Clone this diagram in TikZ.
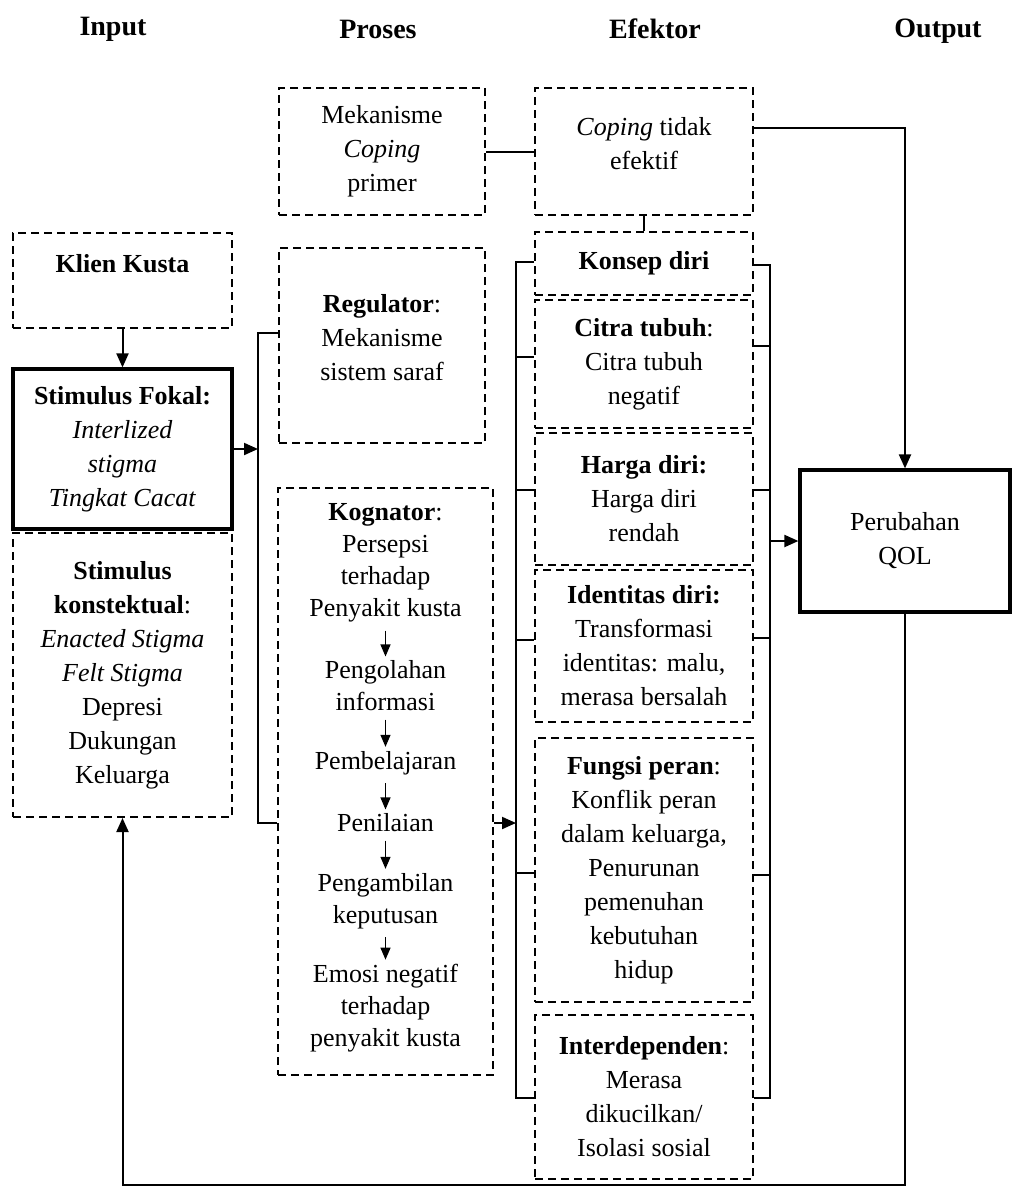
\documentclass[tikz,border=0pt]{standalone}
\usepackage{fontspec}
\setmainfont{Liberation Serif}
\usetikzlibrary{arrows.meta}

\begin{document}
\begin{tikzpicture}[x=0.5pt,y=-0.5pt,
  every node/.style={font=\fontsize{13}{17}\selectfont, align=center, inner sep=0pt},
  dbox/.style={draw, line width=1pt, dash pattern=on 4pt off 2.5pt},
  sbox/.style={draw, line width=1.6pt},
  conn/.style={line width=1pt},
  arr/.style={conn, -{Triangle[length=7pt,width=6pt]}},
  sarr/.style={line width=0.6pt, -{Triangle[length=6pt,width=5pt]}},
  step text/.style={font=\fontsize{13}{16}\selectfont},
  head/.style={font=\fontsize{14}{17}\selectfont\bfseries}]

% canvas
\fill[white] (0,0) rectangle (1012,1189);
\useasboundingbox (0,0) rectangle (1012,1189);

% column headings
\node[head] (hin)  at (113,29) {Input};
\node[head] (hpro) at (378,29) {Proses};
\node[head] (hef)  at (655,29) {Efektor};
\node[head] (hout) at (938,31) {Output};

% input column
\node[dbox, minimum width=109.5pt, minimum height=47.5pt] (klien) at (122.5,280.5)
  {\textbf{Klien Kusta}\\~};
\node[sbox, minimum width=109.5pt, minimum height=80pt] (fokal) at (122.5,449)
  {\textbf{Stimulus Fokal:}\\\textit{Interlized}\\\textit{stigma}\\\textit{Tingkat Cacat}};
\node[dbox, minimum width=109.5pt, minimum height=142pt] (kontek) at (122.5,675)
  {\textbf{Stimulus}\\\textbf{konstektual}:\\\textit{Enacted Stigma}\\\textit{Felt Stigma}\\Depresi\\Dukungan\\Keluarga};

% process column
\node[dbox, minimum width=103pt, minimum height=63.5pt] (mech) at (382,151.5)
  {Mekanisme\\\textit{Coping}\\primer};
\node[dbox, minimum width=103pt, minimum height=97.5pt] (reg) at (382,345.5) {};
\node (regT) at (382,338) {\textbf{Regulator}:\\Mekanisme\\sistem saraf};
\node[dbox, minimum width=107.5pt, minimum height=293.5pt] (kog) at (385.5,781.5) {};
\node[step text] (k1) at (385.5,563) {\textbf{Kognator}:\\Persepsi\\terhadap\\Penyakit kusta};
\node[step text] (k2) at (385.5,686) {Pengolahan\\informasi};
\node[step text] (k3) at (385.5,763) {Pembelajaran};
\node[step text] (k4) at (385.5,823) {Penilaian};
\node[step text] (k5) at (385.5,901) {Pengambilan\\keputusan};
\node[step text] (k6) at (385.5,1008) {Emosi negatif\\terhadap\\penyakit kusta};
\foreach \a/\b in {k1/k2,k2/k3,k3/k4,k4/k5,k5/k6}
  \draw[sarr, shorten <=4pt, shorten >=2pt] (\a.south) -- (\b.north);

% effector column
\node[dbox, minimum width=109pt, minimum height=63.5pt] (copn) at (644,151.5) {};
\node (copnT) at (644,144) {\textit{Coping} tidak\\efektif};
\node[dbox, minimum width=109pt, minimum height=31.5pt] (konsep) at (644,263.5)
  {\textbf{Konsep diri}};
\node[dbox, minimum width=109pt, minimum height=64pt] (citra) at (644,364)
  {\textbf{Citra tubuh}:\\Citra tubuh\\negatif};
\node[dbox, minimum width=109pt, minimum height=66pt] (harga) at (644,499)
  {\textbf{Harga diri:}\\Harga diri\\rendah};
\node[dbox, minimum width=109pt, minimum height=76pt] (ident) at (644,646)
  {\textbf{Identitas diri:}\\Transformasi\\identitas: malu,\\merasa bersalah};
\node[dbox, minimum width=109pt, minimum height=132pt] (fungsi) at (644,870)
  {\textbf{Fungsi peran}:\\Konflik peran\\dalam keluarga,\\Penurunan\\pemenuhan\\kebutuhan\\hidup};
\node[dbox, minimum width=109pt, minimum height=82pt] (inter) at (644,1097)
  {\textbf{Interdependen}:\\Merasa\\dikucilkan/\\Isolasi sosial};

% output column
\node[sbox, minimum width=105pt, minimum height=71pt] (qol) at (905,541)
  {Perubahan\\QOL};

% input to process
\draw[arr] (klien.south) -- (fokal.north);
\coordinate (pTop) at (258,333);
\coordinate (pIn)  at (258,449);
\coordinate (pBot) at (258,823);
\draw[conn] (reg.west |- pTop) -- (pTop) -- (pBot) -- (kog.west |- pBot);
\draw[arr] (fokal.east) -- (pIn);

% coping links
\draw[conn] (mech.east) -- (copn.west);
\draw[conn] (copn.south) -- (konsep.north);
\coordinate (cq) at (905,128);
\draw[arr] (copn.east |- cq) -- (cq) -- (qol.north);

% effector brackets
\coordinate (l1) at (516,262);
\coordinate (l2) at (516,357);
\coordinate (l3) at (516,490);
\coordinate (l4) at (516,640);
\coordinate (l5) at (516,873);
\coordinate (l6) at (516,1098);
\coordinate (lk) at (516,823);
\draw[conn] (konsep.west |- l1) -- (l1) -- (l6) -- (inter.west |- l6);
\draw[conn] (l2) -- (citra.west |- l2);
\draw[conn] (l3) -- (harga.west |- l3);
\draw[conn] (l4) -- (ident.west |- l4);
\draw[conn] (l5) -- (fungsi.west |- l5);
\draw[arr] (kog.east |- lk) -- (lk);

\coordinate (r1) at (770,265);
\coordinate (r2) at (770,346);
\coordinate (r3) at (770,490);
\coordinate (r4) at (770,638);
\coordinate (r5) at (770,875);
\coordinate (r6) at (770,1098);
\coordinate (rq) at (770,541);
\draw[conn] (konsep.east |- r1) -- (r1) -- (r6) -- (inter.east |- r6);
\draw[conn] (r2) -- (citra.east |- r2);
\draw[conn] (r3) -- (harga.east |- r3);
\draw[conn] (r4) -- (ident.east |- r4);
\draw[conn] (r5) -- (fungsi.east |- r5);
\draw[arr] (rq) -- (qol.west);

% feedback loop
\coordinate (fb1) at (905,1185);
\coordinate (fb2) at (122.5,1185);
\draw[arr] (qol.south) -- (fb1) -- (fb2) -- (kontek.south);
\end{tikzpicture}
\end{document}
